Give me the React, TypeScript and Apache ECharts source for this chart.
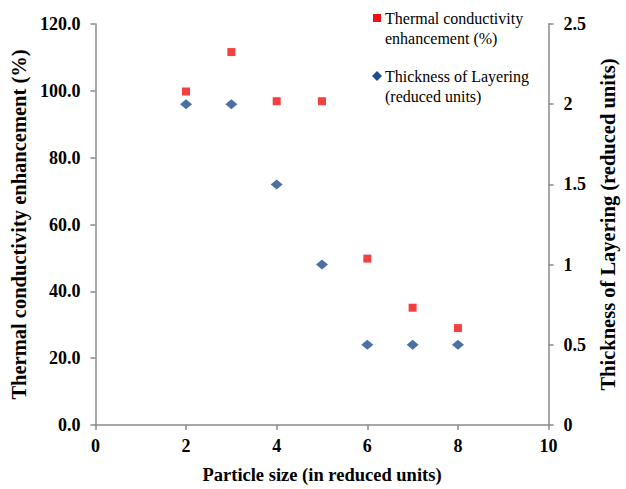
import React, { useEffect, useRef } from "react";
import * as echarts from "echarts";

const particleSize = [2, 3, 4, 5, 6, 7, 8];
const conductivityEnhancement = [99.8, 111.6, 96.9, 96.9, 49.8, 35.1, 29.0];
const layeringThickness = [2, 2, 1.5, 1, 0.5, 0.5, 0.5];
const seriesNames = ["Thermal conductivity\nenhancement (%)", "Thickness of Layering\n(reduced units)"];

const serif = "'Liberation Serif', 'Times New Roman', serif";
const axisGrey = "#8a8a8a";
const red = "#f01010";
const blue = "#1f4c8c";

export default function App() {
  const ref = useRef<HTMLDivElement>(null);
  useEffect(() => {
    if (!ref.current) return;
    const chart = echarts.init(ref.current, null, { renderer: "svg" });
    const axisCommon = {
      axisLine: { show: true, lineStyle: { color: axisGrey, width: 1.5 } },
      axisTick: { show: true, inside: false, length: 5, lineStyle: { color: axisGrey, width: 1.5 } },
      splitLine: { show: false },
      axisLabel: { fontFamily: serif, fontWeight: "bold", fontSize: 18, color: "#000" },
      nameTextStyle: { fontFamily: serif, fontWeight: "bold", fontSize: 20.5, color: "#000" },
      nameLocation: "middle" as const,
    };
    const legendText = { fontFamily: serif, fontSize: 16, fill: "#000", lineHeight: 20, verticalAlign: "middle" as const };
    chart.setOption({
      animation: false,
      backgroundColor: "#fff",
      grid: { left: 95, right: 69, top: 24, bottom: 60, containLabel: false },
      graphic: [
        { type: "rect", shape: { x: 373, y: 14, width: 8, height: 8 }, style: { fill: red } },
        { type: "text", x: 385, y: 18, style: { ...legendText, text: seriesNames[0].split("\n")[0] } },
        { type: "text", x: 385, y: 38, style: { ...legendText, text: seriesNames[0].split("\n")[1] } },
        {
          type: "polygon",
          shape: { points: [[377, 71], [382, 76], [377, 81], [372, 76]] },
          style: { fill: blue },
        },
        { type: "text", x: 385, y: 76, style: { ...legendText, text: seriesNames[1].split("\n")[0] } },
        { type: "text", x: 385, y: 96, style: { ...legendText, text: seriesNames[1].split("\n")[1] } },
      ],
      xAxis: {
        type: "value",
        min: 0,
        max: 10,
        interval: 2,
        name: "Particle size (in reduced units)",
        nameGap: 40,
        ...axisCommon,
        nameTextStyle: { ...axisCommon.nameTextStyle, fontSize: 18.5 },
        axisLabel: { ...axisCommon.axisLabel, margin: 12 },
      },
      yAxis: [
        {
          type: "value",
          min: 0,
          max: 120,
          interval: 20,
          position: "left",
          name: "Thermal conductivity enhancement (%)",
          nameGap: 65,
          ...axisCommon,
          axisLabel: { ...axisCommon.axisLabel, margin: 15, formatter: (v: number) => v.toFixed(1) },
        },
        {
          type: "value",
          min: 0,
          max: 2.5,
          interval: 0.5,
          position: "right",
          name: "Thickness of Layering (reduced units)",
          nameGap: 47,
          ...axisCommon,
          axisLabel: { ...axisCommon.axisLabel, margin: 15 },
        },
      ],
      series: [
        {
          name: seriesNames[0],
          type: "scatter",
          yAxisIndex: 0,
          symbol: "rect",
          symbolSize: 8,
          itemStyle: { color: red },
          data: particleSize.map((x, i) => [x, conductivityEnhancement[i]]),
        },
        {
          name: seriesNames[1],
          type: "scatter",
          yAxisIndex: 1,
          symbol: "diamond",
          symbolSize: [12, 10],
          itemStyle: { color: blue },
          data: particleSize.map((x, i) => [x, layeringThickness[i]]),
        },
      ],
    });
    return () => chart.dispose();
  }, []);
  return (
    <div
      ref={ref}
      style={{ width: 626, height: 489, position: "absolute", left: 0, top: 0, overflow: "hidden" }}
    />
  );
}
